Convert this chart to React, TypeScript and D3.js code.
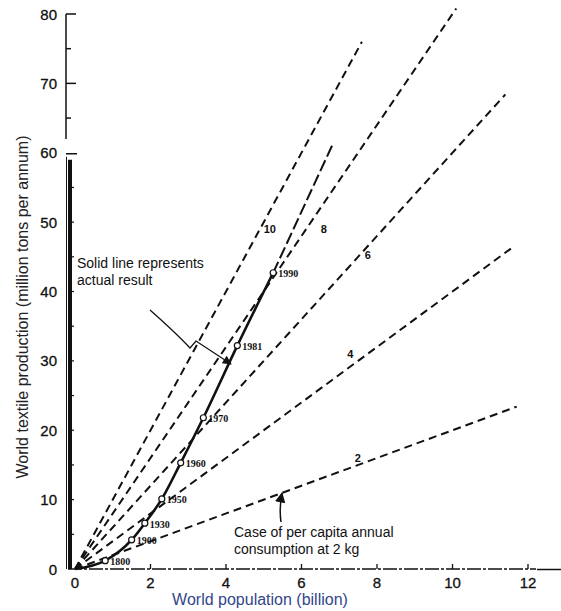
import React from "react";
import * as d3 from "d3";

// axis ticks
const xTicks = [0, 2, 4, 6, 8, 10, 12];
const yTicksLower = [0, 10, 20, 30, 40, 50, 60];
const yTicksUpper = [70, 80];
const yMinorLower = [5, 15, 25, 35, 45, 55];
const yMinorUpper = [65, 75];

// actual result (solid line)
const years = ["", "1800", "1900", "1930", "1950", "1960", "1970", "1981", "1990"];
const population = [0, 0.8, 1.5, 1.85, 2.3, 2.8, 3.4, 4.3, 5.25];
const production = [0, 1.2, 4.2, 6.6, 10.1, 15.3, 21.8, 32.2, 42.7];

// extrapolation beyond 1990
const projectionPop = [5.25, 6.85];
const projectionProd = [42.7, 61.5];

// per capita consumption cases (kg / person / year)
const perCapita = [2, 4, 6, 8, 10];
const perCapitaEnd = [11.7, 11.65, 11.4, 10.1, 7.6];
const perCapitaLabelAt = [7.6, 7.45, 7.65, 6.35, 5.0];

const W = 561, H = 611;
const font = "'Liberation Sans', Arial, sans-serif";
const ink = "#111";

export default function App() {
  const x = d3.scaleLinear().domain([0, 12]).range([75, 528]);
  const y = d3.scaleLinear().domain([0, 80]).range([569, 14]);

  const pts = population.map((p, i) => ({ p, v: production[i], year: years[i] }));
  const actual = d3.line<{ p: number; v: number }>()
    .x(d => x(d.p)).y(d => y(d.v))
    .curve(d3.curveMonotoneX);
  const straight = d3.line<[number, number]>().x(d => x(d[0])).y(d => y(d[1]));

  const labelOffsets = [[-4, -6], [-6, -8], [4, 4], [9, 12], [6, 7]];

  return (
    <svg width={W} height={H} style={{ position: "absolute", left: 0, top: 0, background: "#fff" }}
      fontFamily={font}>
      <defs>
        <marker id="arr" viewBox="0 0 10 10" refX="9" refY="5" markerWidth="7" markerHeight="7" orient="auto-start-reverse">
          <path d="M0,0 L10,5 L0,10 z" fill={ink} />
        </marker>
      </defs>

      {/* y axis: upper segment 60-80 */}
      <line x1={66} x2={66} y1={y(80)} y2={y(62)} stroke={ink} strokeWidth={1.5} />
      {[...yTicksUpper, ...yMinorUpper].map(v => (
        <line key={"tu" + v} x1={66} x2={yTicksUpper.includes(v) ? 76 : 71} y1={y(v)} y2={y(v)} stroke={ink} strokeWidth={1.5} />
      ))}
      {/* lower segment 0-60 */}
      <line x1={66} x2={77} y1={y(60) + 1} y2={y(60) + 1} stroke={ink} strokeWidth={1.5} />
      <line x1={66.5} x2={66.5} y1={y(60) + 4} y2={y(0)} stroke={ink} strokeWidth={1} />
      <line x1={70} x2={70} y1={y(59)} y2={y(0)} stroke={ink} strokeWidth={4} />
      {[...yTicksLower.slice(1, -1), ...yMinorLower].map(v => (
        <line key={"tl" + v} x1={70} x2={74} y1={y(v)} y2={y(v)} stroke={ink} strokeWidth={1.2} />
      ))}
      {[...yTicksLower, ...yTicksUpper].map(v => (
        <text key={"yl" + v} x={57} y={y(v)} textAnchor="end" dominantBaseline="central" fontSize={15} fill={ink}
          stroke={ink} strokeWidth={0.3}>{v}</text>
      ))}

      {/* x axis */}
      <line x1={68} x2={x(12) + 8} y1={y(0)} y2={y(0)} stroke={ink} strokeWidth={1.3} strokeDasharray="14,2,3,2" />
      <line x1={x(12) + 9} x2={W} y1={y(0) + 0.5} y2={y(0) + 0.5} stroke={ink} strokeWidth={1.5} />
      {xTicks.slice(1).map(v => (
        <line key={"xt" + v} x1={x(v)} x2={x(v)} y1={y(0)} y2={y(0) - 5} stroke={ink} strokeWidth={1.3} />
      ))}
      {xTicks.map(v => (
        <text key={"xl" + v} x={x(v)} y={588} textAnchor="middle" fontSize={15} fill={ink}
          stroke={ink} strokeWidth={0.3}>{v}</text>
      ))}

      {/* per capita consumption lines */}
      {perCapita.map((c, i) => (
        <path key={"pc" + c} d={straight([[0, 0], [perCapitaEnd[i], c * perCapitaEnd[i]]]) || ""}
          fill="none" stroke={ink} strokeWidth={2} strokeDasharray="8,5" />
      ))}
      {perCapita.map((c, i) => (
        <text key={"pcl" + c} x={x(perCapitaLabelAt[i]) + labelOffsets[i][0]} y={y(c * perCapitaLabelAt[i]) + labelOffsets[i][1]}
          textAnchor="middle" dominantBaseline="central" fontSize={11} fontWeight="bold" fill={ink}>{c}</text>
      ))}

      {/* projection */}
      <path d={straight(projectionPop.map((p, i) => [p, projectionProd[i]] as [number, number])) || ""}
        fill="none" stroke={ink} strokeWidth={2} strokeDasharray="12,4" />

      {/* actual result */}
      <path d={actual(pts) || ""} fill="none" stroke={ink} strokeWidth={2.6} />
      {pts.filter(d => d.year).map(d => (
        <g key={d.year}>
          <circle cx={x(d.p)} cy={y(d.v)} r={3} fill="#fff" stroke={ink} strokeWidth={1.2} />
          <text x={x(d.p) + 5} y={y(d.v) + 1} dominantBaseline="central" fontSize={10} fontWeight="bold"
            fontFamily="'Liberation Serif', serif" fill={ink}>{d.year}</text>
        </g>
      ))}

      {/* annotations */}
      <text x={77} y={268} fontSize={14} fill={ink}>Solid line represents</text>
      <text x={77} y={285} fontSize={14} fill={ink}>actual result</text>
      <path d="M150,310 Q176,333 190,348 L196,341 L231,364" fill="none" stroke={ink} strokeWidth={1.3} markerEnd="url(#arr)" />

      <text x={234} y={537} fontSize={14} fill={ink}>Case of per capita annual</text>
      <text x={234} y={554} fontSize={14} fill={ink}>consumption at 2 kg</text>
      <path d="M281,522 Q279,508 282,493" fill="none" stroke={ink} strokeWidth={1.5} markerEnd="url(#arr)" />

      {/* axis titles */}
      <text x={260} y={605} textAnchor="middle" fontSize={16} fill="#34468a">World population (billion)</text>
      <text transform="translate(28,307) rotate(-90)" textAnchor="middle" fontSize={16} fill="#222">
        World textile production (million tons per annum)
      </text>
    </svg>
  );
}
